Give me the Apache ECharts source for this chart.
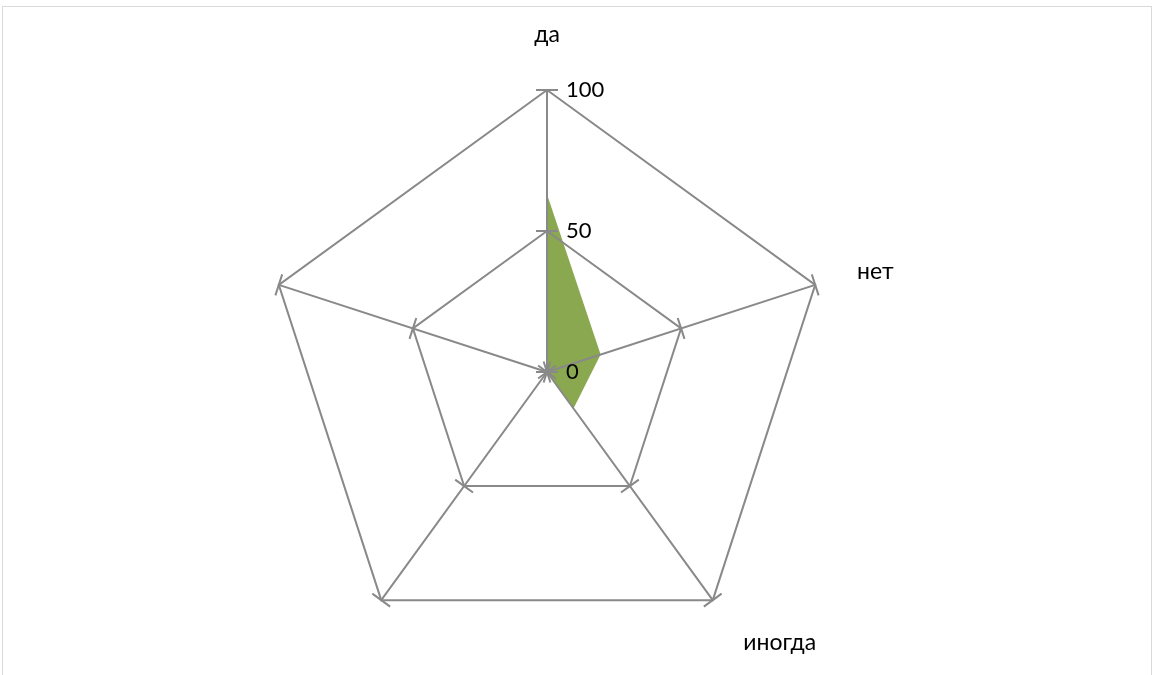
<!DOCTYPE html>
<html>
<head>
<meta charset="utf-8">
<script src="https://cdn.jsdelivr.net/npm/echarts@6/dist/echarts.min.js"></script>
<style>
html,body{margin:0;padding:0;background:#fff;}
#frame{position:absolute;left:2px;top:6px;width:1150px;height:700px;border:1px solid #d9d9d9;box-sizing:border-box;}
#chart{position:absolute;left:0;top:0;width:1155px;height:675px;}
</style>
</head>
<body>
<div id="frame"></div>
<div id="chart"></div>
<script>
// Indicators in ECharts order (counter-clockwise from top)
const categories = ['да', '', '', 'иногда', 'нет'];
const values = [63, 0, 0, 16, 20];
const axisMax = 100;
const tickCount = 2;

const chart = echarts.init(document.getElementById('chart'));
const font = 'Lato, "Open Sans", sans-serif';
const gray = '#898989';

const mkInd = (withLabel) => categories.map((c, i) => {
  const o = { name: c, min: 0, max: axisMax };
  if (withLabel && i === 0) {
    o.axisLabel = { show: true, color: '#000', fontSize: 22, fontFamily: font, margin: -19, align: 'left' };
  }
  if (withLabel && c === 'иногда') {
    o.nameGap = 52;
  }
  return o;
});

chart.setOption({
  animation: false,
  radar: [
    {
      z: 5,
      center: [547, 372],
      radius: 282,
      startAngle: 90,
      splitNumber: tickCount,
      indicator: mkInd(true),
      shape: 'polygon',
      nameGap: 44,
      axisName: { color: '#000', fontSize: 23, fontFamily: font },
      axisLine: { lineStyle: { color: gray, width: 2 } },
      axisTick: { show: true, length: 11, inside: false, lineStyle: { color: gray, width: 2 } },
      splitLine: { lineStyle: { color: gray, width: 2 } },
      splitArea: { show: false }
    },
    {
      z: 5,
      center: [547, 372],
      radius: 282,
      startAngle: 90,
      splitNumber: tickCount,
      indicator: mkInd(false),
      shape: 'polygon',
      axisName: { show: false },
      axisLine: { show: false },
      axisTick: { show: true, length: -11, inside: false, lineStyle: { color: gray, width: 2 } },
      splitLine: { show: false },
      splitArea: { show: false }
    }
  ],
  series: [{
    type: 'radar',
    radarIndex: 0,
    symbol: 'none',
    z: 1,
    lineStyle: { width: 0 },
    areaStyle: { color: '#8aa84f', opacity: 1 },
    data: [{ value: values }]
  }]
});
</script>
</body>
</html>
